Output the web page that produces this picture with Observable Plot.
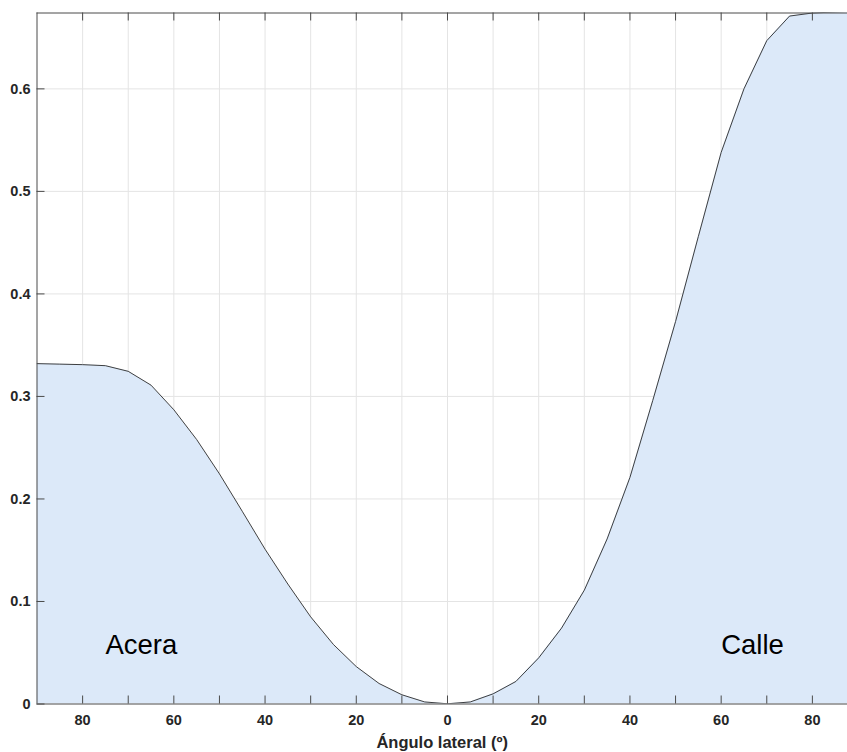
<!DOCTYPE html>
<html>
<head>
<meta charset="utf-8">
<script src="https://cdn.jsdelivr.net/npm/d3@7"></script>
<script src="https://cdn.jsdelivr.net/npm/@observablehq/plot@0.6"></script>
<style>
  html, body { margin: 0; padding: 0; background: #fff; }
  svg { display: block; }
</style>
</head>
<body>
<div id="chart"></div>
<script>
// Lateral angle (degrees): negative = sidewalk (Acera), positive = street (Calle)
const angles = [-90,-85,-80,-75,-70,-65,-60,-55,-50,-45,-40,-35,-30,-25,-20,-15,-10,-5,0,5,10,15,20,25,30,35,40,45,50,55,60,65,70,75,80,85,90];
const values = [0.332,0.3315,0.331,0.330,0.3245,0.311,0.287,0.258,0.2245,0.188,0.151,0.117,0.085,0.058,0.0365,0.020,0.009,0.002,0.0002,0.002,0.0099,0.022,0.045,0.074,0.111,0.161,0.221,0.296,0.373,0.456,0.538,0.600,0.647,0.671,0.674,0.675,0.676];

const xTickLabels = [-80,-60,-40,-20,0,20,40,60,80];
const xGridTicks = [-80,-70,-60,-50,-40,-30,-20,-10,0,10,20,30,40,50,60,70,80];
const yTicks = [0,0.1,0.2,0.3,0.4,0.5,0.6];
const xLabel = "Ángulo lateral (º)";
const regionLabels = [{text: "Acera", x: -75}, {text: "Calle", x: 60}];
const regionLabelY = 0.0575;

const xDomain = [-90, 87.7];
const yDomain = [0, 0.674];

const data = angles.map((a, i) => ({angle: a, value: values[i]}));

const W = 847, H = 752;
const mT = 12.5, mB = 48.5, mL = 36.5, mR = 0;
const tickPx = 8;
const tickLenY = tickPx * (yDomain[1] - yDomain[0]) / (H - mT - mB);
const tickLenX = tickPx * (xDomain[1] - xDomain[0]) / (W - mL - mR);

const axisColor = "#4a4a4a";
const gridColor = "#e4e4e4";
const textColor = "#262626";
const font = "'Liberation Sans', Arial, Helvetica, sans-serif";

const chart = Plot.plot({
  width: W,
  height: H,
  marginTop: mT,
  marginBottom: mB,
  marginLeft: mL,
  marginRight: mR,
  style: {fontFamily: font, background: "#fff", color: textColor},
  x: {domain: xDomain},
  y: {domain: yDomain},
  marks: [
    Plot.ruleX(xGridTicks, {stroke: gridColor, strokeWidth: 1}),
    Plot.ruleY(yTicks.filter(d => d > 0), {stroke: gridColor, strokeWidth: 1}),
    Plot.areaY(data, {x: "angle", y: "value", fill: "#dce9f9", clip: true}),
    Plot.lineY(data, {x: "angle", y: "value", stroke: "#2a2a2a", strokeWidth: 0.9, clip: true}),
    // axis box lines
    Plot.ruleY([yDomain[0]], {stroke: axisColor, strokeWidth: 1}),
    Plot.ruleY([yDomain[1]], {stroke: axisColor, strokeWidth: 1}),
    Plot.ruleX([xDomain[0]], {stroke: axisColor, strokeWidth: 1}),
    // inward tick marks
    Plot.ruleX(xGridTicks, {y1: yDomain[0], y2: yDomain[0] + tickLenY, stroke: axisColor, strokeWidth: 1}),
    Plot.ruleX(xGridTicks, {y1: yDomain[1], y2: yDomain[1] - tickLenY, stroke: axisColor, strokeWidth: 1}),
    Plot.ruleY(yTicks, {x1: xDomain[0], x2: xDomain[0] + tickLenX, stroke: axisColor, strokeWidth: 1}),
    // tick labels
    Plot.axisX(xTickLabels, {tickSize: 0, tickPadding: 11, tickFormat: d => Math.abs(d), fontSize: 14.5, fontWeight: "bold", fill: textColor, label: null}),
    Plot.axisY(yTicks, {tickSize: 0, tickPadding: 6.5, tickFormat: d => d === 0 ? "0" : d.toFixed(1), fontSize: 14.5, fontWeight: "bold", fill: textColor, label: null}),
    // x axis title
    Plot.text([xLabel], {frameAnchor: "bottom", dy: 38.5, fontSize: 16.5, fontWeight: "bold", fill: textColor, lineAnchor: "middle"}),
    // region labels
    Plot.text(regionLabels, {x: "x", y: () => regionLabelY, text: "text", textAnchor: "start", fontSize: 27.5, fill: "#000", lineAnchor: "middle"})
  ]
});

document.getElementById("chart").appendChild(chart);
</script>
</body>
</html>
